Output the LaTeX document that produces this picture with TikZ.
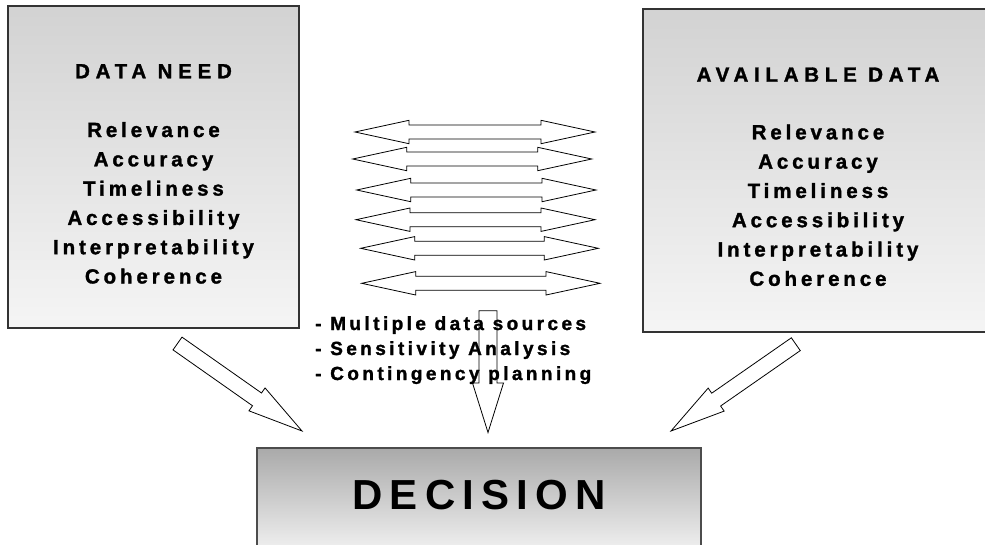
\documentclass[tikz,border=0pt]{standalone}
\usepackage{fontspec}
\setmainfont{Liberation Sans}
\newfontfamily\titlefont{Liberation Sans}[LetterSpace=28, BoldFeatures={FakeBold=1.5}]
\newfontfamily\spacedfont{Liberation Sans}[LetterSpace=19, BoldFeatures={FakeBold=1.5}]
\newfontfamily\notefont{Liberation Sans}[LetterSpace=18, BoldFeatures={FakeBold=1.5}]
\newfontfamily\bigfont{Liberation Sans}[LetterSpace=17]
\usetikzlibrary{calc,positioning}

\tikzset{
  infobox/.style={draw=black!80, line width=1.1pt, top color=gray!35, bottom color=gray!8, inner sep=0pt},
  decbox/.style={draw=black!70, line width=1.1pt, top color=gray!67, bottom color=gray!14, inner sep=0pt},
  boxtxt/.style={font=\spacedfont\bfseries\fontsize{20.5}{24}\selectfont, anchor=base, inner sep=0pt},
  titletxt/.style={font=\titlefont\bfseries\fontsize{20.5}{24}\selectfont, anchor=base, inner sep=0pt},
  notetxt/.style={font=\notefont\bfseries\fontsize{19}{22}\selectfont, anchor=base west, inner sep=0pt},
  blockline/.style={draw=black, line width=0.8pt, line join=miter}
}

% block arrow: tail, tip, half shaft, half head, head length
\newcommand{\blockarrow}[5]{%
  \coordinate (hb) at ($(#2)!#5!(#1)$);
  \draw[blockline] ($(#1)!#3!90:(#2)$) -- ($(hb)!#3!90:(#2)$) -- ($(hb)!#4!90:(#2)$) -- (#2)
    -- ($(hb)!#4!-90:(#2)$) -- ($(hb)!#3!-90:(#2)$) -- ($(#1)!#3!-90:(#2)$) -- cycle;}

% two-headed block arrow: left tip, right tip
\newcommand{\dblarrow}[2]{%
  \coordinate (ha) at ($(#1)!54pt!(#2)$);
  \coordinate (hb) at ($(#2)!54pt!(#1)$);
  \draw[blockline] (#1) -- ($(ha)!11.7pt!90:(#2)$) -- ($(ha)!7pt!90:(#2)$) -- ($(hb)!7pt!90:(#2)$)
    -- ($(hb)!11.7pt!90:(#2)$) -- (#2) -- ($(hb)!11.7pt!-90:(#2)$) -- ($(hb)!7pt!-90:(#2)$)
    -- ($(ha)!7pt!-90:(#2)$) -- ($(ha)!11.7pt!-90:(#2)$) -- cycle;}

\begin{document}
\begin{tikzpicture}[x=1pt,y=-1pt]
  \useasboundingbox (0,0) rectangle (985,544);
  \clip (0,0) rectangle (985,544);

  % boxes
  \node[infobox, minimum width=291pt, minimum height=322pt] (needbox) at (153.5,167) {};
  \node[infobox, minimum width=350pt, minimum height=323pt] (availbox) at (818,170.5) {};
  \node[decbox, minimum width=444pt, minimum height=98pt] (decbox) at (479,497) {};

  % box texts
  \node[titletxt] (needtitle) at (153.5,78.3) {DATA NEED};
  \node[titletxt] (availtitle) at (818,81.7) {AVAILABLE DATA};
  \foreach \word [count=\i] in {Relevance,Accuracy,Timeliness,Accessibility,Interpretability,Coherence}{
    \node[boxtxt] (need\i) at (153.5,137+29.3*\i-29.3) {\word};
    \node[boxtxt] (avail\i) at (818,139.3+29.3*\i-29.3) {\word};
  }
  \node[font=\bigfont\bfseries\fontsize{42}{48}\selectfont, anchor=base, inner sep=0pt] (dectxt) at (479,509.3) {DECISION};

  % arrows between the two boxes
  \foreach \xl/\xr/\yy [count=\i] in {355/595/132, 352.7/591.7/159, 356.7/596/190, 356/595/219.7, 360.7/598.3/248.3, 361.7/600/283.3}{
    \coordinate (dl\i) at (\xl,\yy);
    \coordinate (dr\i) at (\xr,\yy);
    \dblarrow{dl\i}{dr\i}
  }

  % notes
  \node[notetxt] (note1) at (315,330) {- Multiple data sources};
  \node[notetxt] (note2) at (315,355) {- Sensitivity Analysis};
  \node[notetxt] (note3) at (315,380) {- Contingency planning};

  % arrows to the decision
  \coordinate (needtail) at (177.5,343.5);
  \coordinate (needtip) at (302,431);
  \coordinate (availtail) at (795.8,344.2);
  \coordinate (availtip) at (671,431);
  \coordinate (midtail) at (488,310.7);
  \coordinate (midtip) at (488,432.5);
  \blockarrow{needtail}{needtip}{7.8pt}{14pt}{55pt}
  \blockarrow{availtail}{availtip}{7.8pt}{14pt}{55pt}
  \blockarrow{midtail}{midtip}{9pt}{15.5pt}{49.5pt}
\end{tikzpicture}
\end{document}
